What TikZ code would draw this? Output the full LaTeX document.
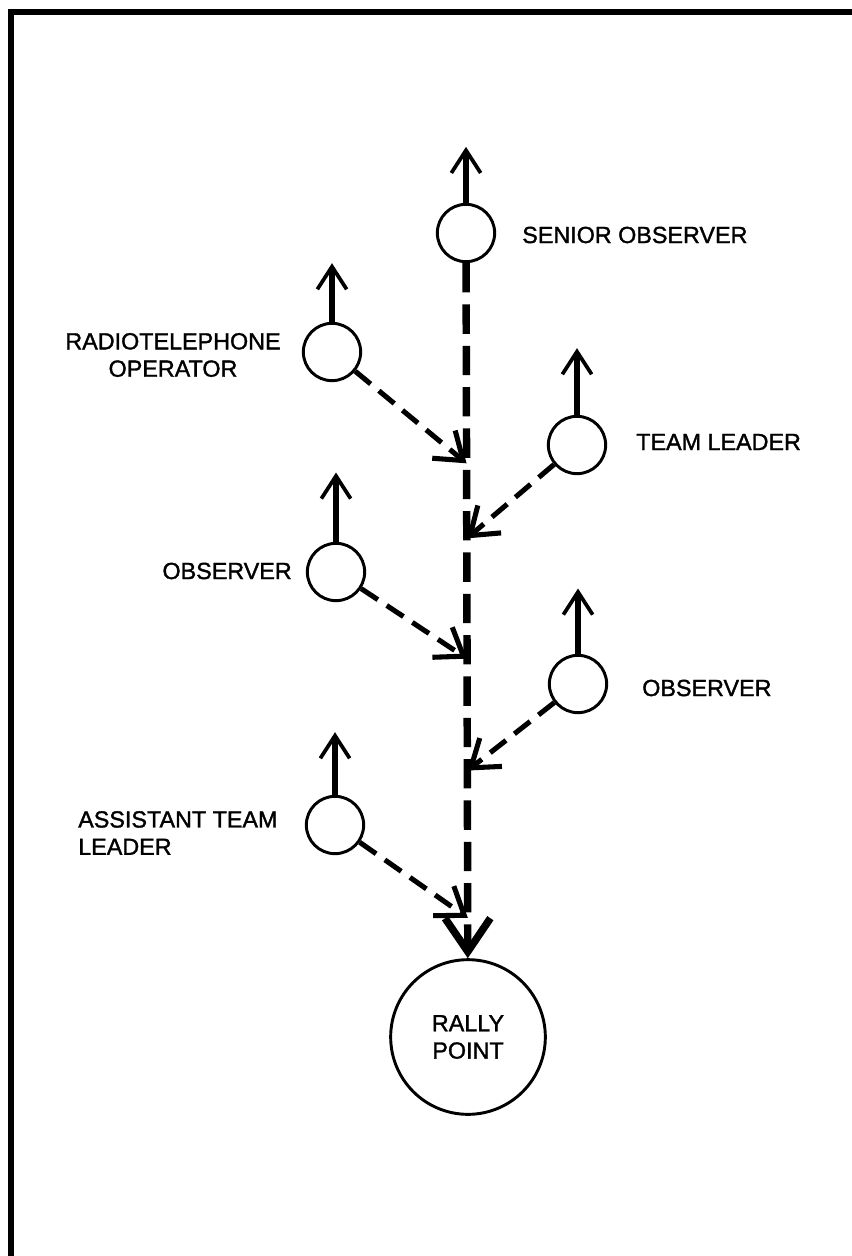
\documentclass[tikz,border=0pt]{standalone}
\usepackage{fontspec}
\setmainfont{Liberation Sans}
\newfontfamily\lblfont{Liberation Sans}[FakeBold=1.4]
\usetikzlibrary{positioning,arrows.meta}

\tikzset{
  man/.style={circle,draw,line width=2.2pt,minimum size=43pt,inner sep=0pt},
  lbl/.style={font=\lblfont\fontsize{17.5}{20.5}\selectfont,align=center,inner sep=0pt},
  facing/.style={line width=4.4pt,-{Straight Barb[length=17pt,width=22pt,line width=2.8pt]}},
  route/.style={line width=3.8pt,dash pattern=on 15pt off 8pt,-{Straight Barb[length=19pt,width=27pt]}},
  trunk/.style={line width=5.6pt,dash pattern=on 22pt off 9pt,-{Straight Barb[length=25pt,width=34pt]}}
}

\begin{document}
\begin{tikzpicture}[x=0.75pt,y=-0.75pt]
\useasboundingbox (0,0) rectangle (852,1256);
\draw[line width=4.5pt] (11,1256) -- (11,12) -- (852,12);

% team members
\node[man] (sen) at (466,233) {};
\node[man] (rto) at (332,352) {};
\node[man] (tl) at (577,445) {};
\node[man] (obs1) at (336,572) {};
\node[man] (obs2) at (578,684) {};
\node[man] (atl) at (335,825) {};
\node[man,lbl,minimum size=116pt] (rally) at (468,1037) {RALLY\\POINT};

% facing direction
\coordinate[above=42pt of sen] (sen-t);
\coordinate[above=44pt of rto] (rto-t);
\coordinate[above=50pt of tl] (tl-t);
\coordinate[above=52pt of obs1] (obs1-t);
\coordinate[above=49pt of obs2] (obs2-t);
\coordinate[above=47pt of atl] (atl-t);
\foreach \m in {sen,rto,tl,obs1,obs2,atl}
  \draw[facing] (\m) -- (\m-t);

% route to the rally point
\path (sen.south) -- (rally.north) coordinate[pos=.288] (j1) coordinate[pos=.396] (j2)
  coordinate[pos=.569] (j3) coordinate[pos=.73] (j4) coordinate[pos=.942] (j5);
\draw[trunk] (sen) -- (rally);
\draw[route] (rto) -- (j1);
\draw[route] (tl) -- (j2);
\draw[route] (obs1) -- (j3);
\draw[route] (obs2) -- (j4);
\draw[route] (atl) -- (j5);

\node[lbl,anchor=west] (sen-l) at (522,235) {SENIOR OBSERVER};
\node[lbl] (rto-l) at (173,355) {RADIOTELEPHONE\\OPERATOR};
\node[lbl,anchor=west] (tl-l) at (636,442) {TEAM LEADER};
\node[lbl,anchor=east] (obs1-l) at (292,571) {OBSERVER};
\node[lbl,anchor=west] (obs2-l) at (642,688) {OBSERVER};
\node[lbl,align=left,anchor=west] (atl-l) at (78,833) {ASSISTANT TEAM\\LEADER};
\end{tikzpicture}
\end{document}
